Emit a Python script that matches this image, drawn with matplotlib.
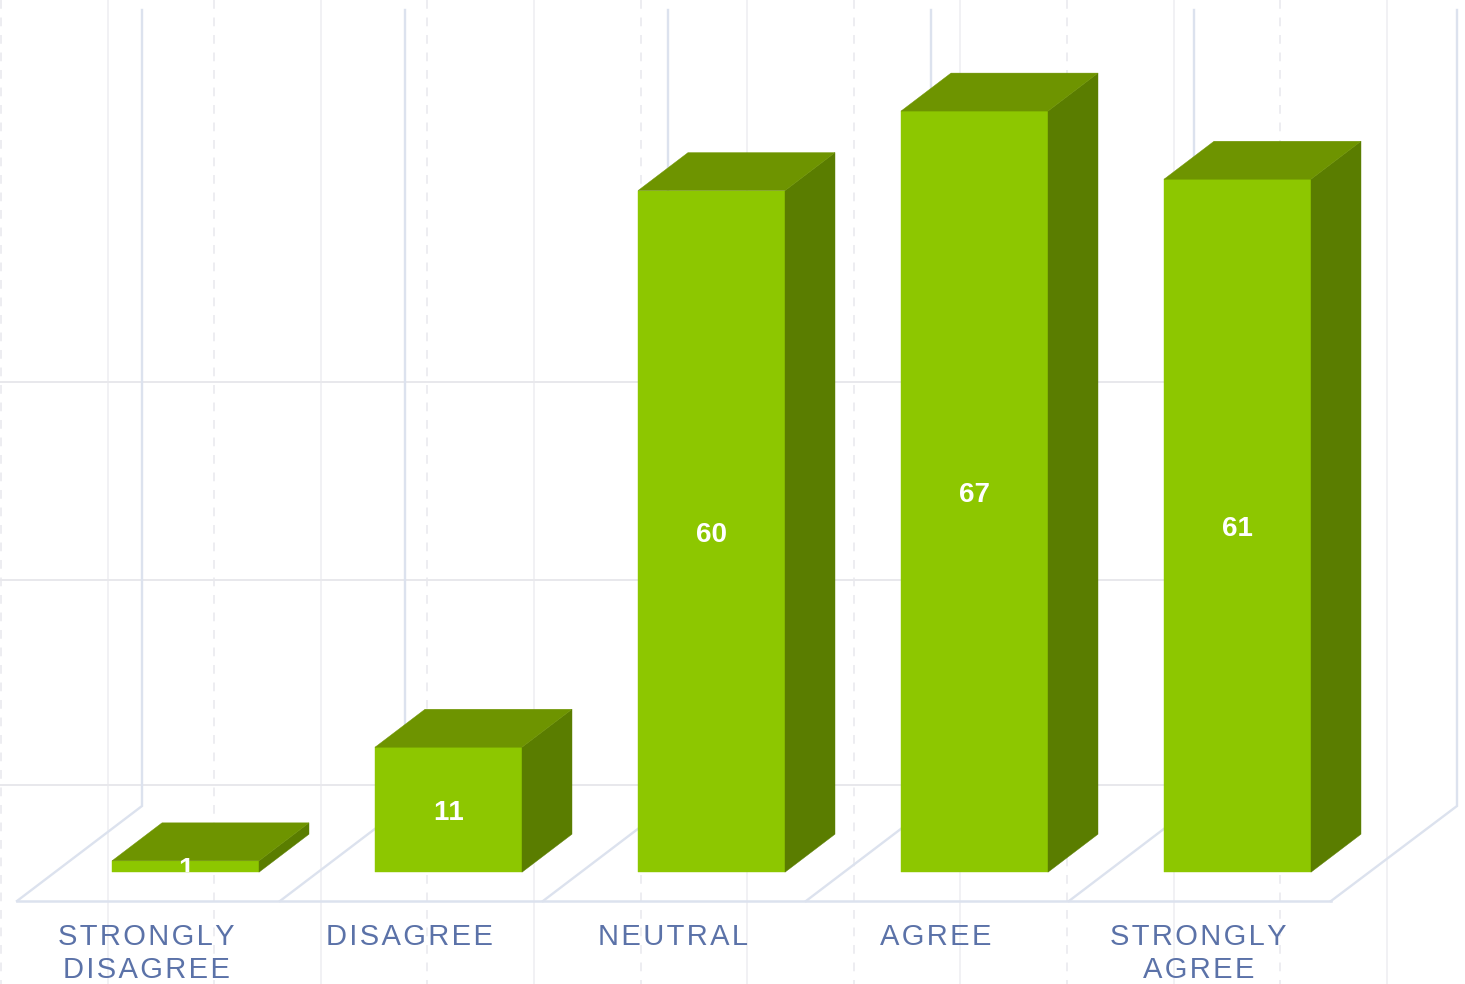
import matplotlib
matplotlib.use("Agg")
import matplotlib.pyplot as plt
from matplotlib.patches import Polygon, Rectangle

plt.rcParams["font.family"] = ["Liberation Sans", "DejaVu Sans"]
plt.rcParams["text.kerning_factor"] = 6

categories = ["STRONGLY\nDISAGREE", "DISAGREE", "NEUTRAL", "AGREE", "STRONGLY\nAGREE"]
values = [1, 11, 60, 67, 61]

# picture scale: one category = 263 px, one unit = 11.36 px
X_SCALE = 263
Y_SCALE = 11.36
X0 = 185.5
Y0 = 872.2

BAR_W = 147 / X_SCALE
DEPTH_X = 50 / X_SCALE
DEPTH_Y = 38 / Y_SCALE

FRONT = "#8DC700"
TOP = "#6E9400"
SIDE = "#5A7D00"
WALL = "#DCE2EE"
GRID = "#E8E8EC"
FAINT = "#F1F1F4"
DASHED = "#EDEDF1"
LABEL = "#5B72A8"


def px_x(px):
    return (px - X0) / X_SCALE


def px_y(px):
    return (Y0 - px) / Y_SCALE


def spaced(text):
    # letter spacing of the axis labels, hair space between letters
    return "\n".join("\u200a".join(line) for line in text.split("\n"))


fig = plt.figure(figsize=(14.65, 9.84), dpi=100)
ax = fig.add_axes([0, 0, 1, 1])
ax.set_xlim(px_x(0), px_x(1465))
ax.set_ylim(px_y(984), px_y(0))
ax.axis("off")

# backdrop grid
for k in range(14):
    gx = px_x(1 + k * 106.6)
    if k % 2 == 0:
        ax.plot([gx, gx], [px_y(0), px_y(984)], color=DASHED, lw=1.4,
                dashes=(4.5, 4.5), zorder=1)
    else:
        ax.plot([gx, gx], [px_y(0), px_y(984)], color=FAINT, lw=1.4, zorder=1)

for gy in [382, 580, 785]:
    ax.plot([px_x(0), px_x(1280)], [px_y(gy), px_y(gy)], color=GRID, lw=1.4, zorder=1)

# back wall and floor
for back, front in zip([142, 405, 668, 931, 1194, 1457], [17, 280, 543, 806, 1069, 1331]):
    ax.plot([px_x(back), px_x(back), px_x(front)],
            [px_y(10), px_y(806), px_y(901)], color=WALL, lw=1.7, zorder=2,
            solid_joinstyle="miter")
ax.plot([px_x(17), px_x(1331)], [px_y(901), px_y(901)], color=WALL, lw=1.8, zorder=2)

# bars
for i, v in enumerate(values):
    left = i - BAR_W / 2
    right = i + BAR_W / 2
    ax.add_patch(Rectangle((left, 0), BAR_W, v, facecolor=FRONT, edgecolor=FRONT,
                           lw=0.3, zorder=3))
    ax.add_patch(Polygon([(right, 0), (right + DEPTH_X, DEPTH_Y),
                          (right + DEPTH_X, v + DEPTH_Y), (right, v)],
                         facecolor=SIDE, edgecolor=SIDE, lw=0.3, zorder=3))
    ax.add_patch(Polygon([(left, v), (right, v), (right + DEPTH_X, v + DEPTH_Y),
                          (left + DEPTH_X, v + DEPTH_Y)],
                         facecolor=TOP, edgecolor=TOP, lw=0.3, zorder=3))

    # value label, cut off at the bottom of the bar
    t = ax.annotate(str(v), (i, v / 2), xytext=(0, -2.6), textcoords="offset points",
                    color="white", fontsize=20, fontweight="bold",
                    ha="center", va="center", zorder=4)
    clip = Rectangle((left, 0), BAR_W, v + DEPTH_Y, transform=ax.transData)
    t.set_clip_path(clip)

# category labels
for i, name in enumerate(categories):
    ax.text(i + px_x(146.5), px_y(923), spaced(name), color=LABEL, fontsize=21,
            ha="center", va="top", linespacing=1.22, zorder=4)

fig.savefig("out.png", dpi=100)
